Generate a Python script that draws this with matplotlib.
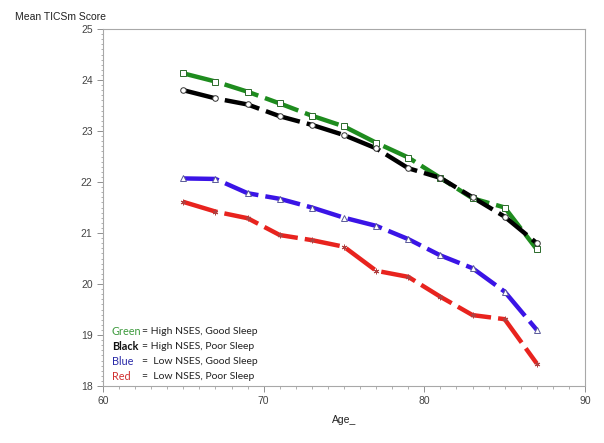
import matplotlib
matplotlib.use("Agg")
import matplotlib.pyplot as plt
from matplotlib.ticker import MultipleLocator

plt.rcParams["font.family"] = ["Liberation Sans", "DejaVu Sans"]

ages = [65, 67, 69, 71, 73, 75, 77, 79, 81, 83, 85, 87]
green = [24.13, 23.97, 23.77, 23.54, 23.30, 23.09, 22.77, 22.48, 22.08, 21.68, 21.50, 20.68]
black = [23.80, 23.64, 23.52, 23.29, 23.12, 22.92, 22.66, 22.27, 22.08, 21.70, 21.32, 20.80]
blue = [22.07, 22.06, 21.78, 21.67, 21.50, 21.30, 21.14, 20.88, 20.56, 20.31, 19.85, 19.10]
red = [21.61, 21.42, 21.29, 20.96, 20.86, 20.73, 20.26, 20.14, 19.75, 19.39, 19.31, 18.44]

legend_words = ["Green", "Black", "Blue", "Red"]
legend_rest = ["= High NSES, Good Sleep", "= High NSES, Poor Sleep",
               "=  Low NSES, Good Sleep", "=  Low NSES, Poor Sleep"]

fig = plt.figure(figsize=(6.04, 4.43), dpi=100)
ax = fig.add_axes([103 / 604, 1 - 386 / 443, (585 - 103) / 604, (386 - 29) / 443])

series = [
    (green, "#1e8c1e", "s", "#2a6a2a"),
    (black, "#000000", "o", "#333333"),
    (blue, "#3a14e6", "^", "#5a5a9a"),
    (red, "#e8231e", (6, 2, 0), "#b04040"),
]
for ys, col, mk, mec in series:
    ax.plot(ages, ys, color=col, lw=3.2, dashes=(8, 1.6), solid_capstyle="butt",
            dash_capstyle="butt", zorder=2)
    ax.plot(ages, ys, ls="none", marker=mk, ms=4, mfc="white", mec=mec,
            mew=0.7, zorder=3)

ax.set_xlim(60, 90)
ax.set_ylim(18, 25)
ax.xaxis.set_major_locator(MultipleLocator(10))
ax.xaxis.set_minor_locator(MultipleLocator(1))
ax.yaxis.set_major_locator(MultipleLocator(1))
ax.yaxis.set_minor_locator(MultipleLocator(0.1))

for s in ax.spines.values():
    s.set_color("#a8a8a8")
    s.set_linewidth(0.8)
ax.tick_params(which="both", direction="out", color="#909090", labelcolor="#444444",
               labelsize=7.5, top=False, right=False)
ax.tick_params(which="major", length=4, width=0.7)
ax.tick_params(which="minor", length=2.5, width=0.5)
ax.tick_params(axis="y", which="minor", length=1.5)

fig.text(15 / 604, 1 - 17 / 443, "Mean TICSm Score", fontsize=7.5, color="#222222",
         va="center", ha="left")
fig.text((103 + 585) / 2 / 604, 1 - 420 / 443, "Age_", fontsize=7.5, color="#222222",
         va="center", ha="center")

word_colors = ["#3d9a3d", "#111111", "#2a2aa8", "#d03030"]
word_weights = ["normal", "bold", "normal", "normal"]
ys_px = [331.5, 346.5, 361.5, 376.5]
for w, r, c, fw, yp in zip(legend_words, legend_rest, word_colors, word_weights, ys_px):
    fig.text(112 / 604, 1 - yp / 443, w, color=c, fontsize=7.8, fontweight=fw,
             va="center", ha="left", family=["Lato", "DejaVu Sans"])
    fig.text(141.5 / 604, 1 - yp / 443, r, color="#222222", fontsize=7.5,
             va="center", ha="left", family=["Lato", "DejaVu Sans"])

fig.savefig("out.png", dpi=100)
